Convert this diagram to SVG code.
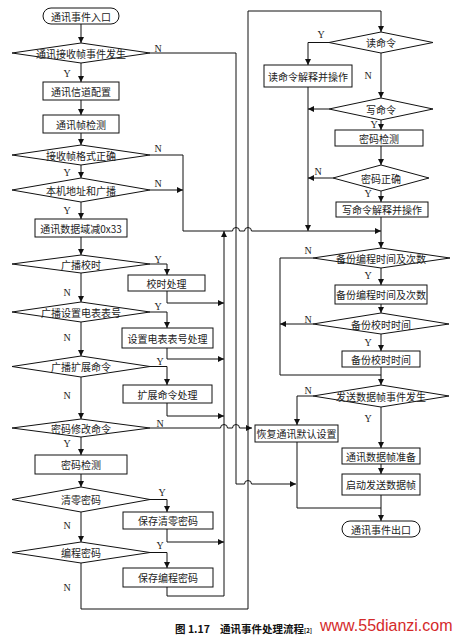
<svg xmlns="http://www.w3.org/2000/svg" width="455" height="638" viewBox="0 0 455 638">
<defs>
<marker id="arr" markerUnits="userSpaceOnUse" markerWidth="6" markerHeight="6" refX="6" refY="3" orient="auto">
<path d="M0,0 L6,3 L0,6 z" fill="#111"/>
</marker>
<style>
.s{fill:#fff;stroke:#111;stroke-width:1}
.t{font-family:"Noto Sans CJK SC","Noto Sans",sans-serif;font-size:10px;fill:#222;text-anchor:middle;dominant-baseline:central}
.l{font-family:"Liberation Serif",serif;font-size:10px;fill:#222;text-anchor:middle}
.c{fill:none;stroke:#111;stroke-width:1}
.a{marker-end:url(#arr)}
</style>
</defs>
<rect width="455" height="638" fill="#fff"/>

<g id="connectors">
<path class="c a" d="M81 24 V43"/>
<path class="c a" d="M150 53 H236 V484 H244.5 a3.5 3.5 0 0 1 7 0 H296"/>
<path class="c a" d="M81 63 V82"/>
<path class="c a" d="M81 100 V115"/>
<path class="c a" d="M81 133 V145"/>
<path class="c a" d="M150 155 H183 V231 H232.5 a3.5 3.5 0 0 1 7 0 H244.5 a3.5 3.5 0 0 1 7 0 H381"/>
<path class="c a" d="M81 165 V178"/>
<path class="c a" d="M150 190 H183"/>
<path class="c a" d="M81 202 V219"/>
<path class="c a" d="M81 237 V255"/>
<path class="c a" d="M150 264 H167 V275"/>
<path class="c a" d="M167 291 V303 H224"/>
<path class="c a" d="M81 273 V302"/>
<path class="c a" d="M150 312 H167 V328"/>
<path class="c a" d="M167 348 V359 H224"/>
<path class="c a" d="M81 322 V356"/>
<path class="c a" d="M150 366.5 H167 V385"/>
<path class="c a" d="M167 403 V416 H224"/>
<path class="c a" d="M81 377 V419"/>
<path class="c a" d="M150 428 H220.5 a3.5 3.5 0 0 1 7 0 H232.5 a3.5 3.5 0 0 1 7 0 H252"/>
<path class="c a" d="M81 437 V455"/>
<path class="c a" d="M81 474 V487"/>
<path class="c a" d="M150 499.5 H167 V512"/>
<path class="c a" d="M167 529 V542 H224"/>
<path class="c a" d="M81 512 V542"/>
<path class="c a" d="M150 552.5 H167 V568"/>
<path class="c a" d="M167 587 V596 H224 V231"/>
<path class="c a" d="M81 563 V609 H248 V11 H381 V32"/>
<path class="c a" d="M329 42.5 H308 V65"/>
<path class="c a" d="M381 53 V98"/>
<path class="c a" d="M308 87 V231"/>
<path class="c a" d="M329 109 H308"/>
<path class="c a" d="M381 120 V130"/>
<path class="c a" d="M381 146 V165"/>
<path class="c a" d="M333 178 H308"/>
<path class="c a" d="M381 191 V202"/>
<path class="c a" d="M381 217 V248"/>
<path class="c" d="M313 258 H280 V375 H381"/>
<path class="c a" d="M381 268 V285"/>
<path class="c a" d="M381 304 V313"/>
<path class="c a" d="M313 324 H280"/>
<path class="c a" d="M381 334 V351"/>
<path class="c a" d="M381 367 V385"/>
<path class="c a" d="M313 396 H297 V425"/>
<path class="c a" d="M381 407 V448"/>
<path class="c a" d="M381 464 V474"/>
<path class="c a" d="M381 495 V521"/>
<path class="c" d="M297 442 V508 H381"/>
</g>

<g id="labels">
<text class="l" x="67" y="77">Y</text>
<text class="l" x="158" y="52">N</text>
<text class="l" x="158" y="152">N</text>
<text class="l" x="67" y="176">Y</text>
<text class="l" x="158" y="187">N</text>
<text class="l" x="67" y="214">Y</text>
<text class="l" x="158" y="263">Y</text>
<text class="l" x="67" y="296">N</text>
<text class="l" x="158" y="310">Y</text>
<text class="l" x="67" y="341">N</text>
<text class="l" x="160" y="365">Y</text>
<text class="l" x="67" y="399">N</text>
<text class="l" x="160" y="427">N</text>
<text class="l" x="67" y="447">Y</text>
<text class="l" x="162" y="496">Y</text>
<text class="l" x="67" y="529">N</text>
<text class="l" x="160" y="549">Y</text>
<text class="l" x="67" y="591">N</text>
<text class="l" x="321" y="38">Y</text>
<text class="l" x="368" y="79">N</text>
<text class="l" x="374" y="128" font-size="9">Y</text>
<text class="l" x="318" y="175">N</text>
<text class="l" x="368" y="197">Y</text>
<text class="l" x="308" y="254">N</text>
<text class="l" x="368" y="279">Y</text>
<text class="l" x="308" y="323">N</text>
<text class="l" x="368" y="346">Y</text>
<text class="l" x="308" y="394">N</text>
<text class="l" x="368" y="422">Y</text>
</g>

<g id="start"><rect class="s" x="43" y="8" width="76" height="16" rx="8"/><text class="t" x="81" y="16">通讯事件入口</text></g>
<g id="d_recv"><polygon class="s" points="12,53 81,43 150,53 81,63"/><text class="t" x="81" y="53">通讯接收帧事件发生</text></g>
<g id="b_channel"><rect class="s" x="43" y="82" width="76" height="18"/><text class="t" x="81" y="91">通讯信道配置</text></g>
<g id="b_frame"><rect class="s" x="43" y="115" width="76" height="18"/><text class="t" x="81" y="124">通讯帧检测</text></g>
<g id="d_format"><polygon class="s" points="12,155 81,145 150,155 81,165"/><text class="t" x="81" y="155">接收帧格式正确</text></g>
<g id="d_addr"><polygon class="s" points="12,190 81,178 150,190 81,202"/><text class="t" x="81" y="190">本机地址和广播</text></g>
<g id="b_sub33"><rect class="s" x="35" y="219" width="92" height="18"/><text class="t" x="81" y="228">通讯数据域减0x33</text></g>
<g id="d_bctime"><polygon class="s" points="12,264 81,255 150,264 81,273"/><text class="t" x="81" y="264">广播校时</text></g>
<g id="b_time"><rect class="s" x="128" y="275" width="77" height="16"/><text class="t" x="166.5" y="283">校时处理</text></g>
<g id="d_bcmeter"><polygon class="s" points="12,312 81,302 150,312 81,322"/><text class="t" x="81" y="312">广播设置电表表号</text></g>
<g id="b_meter"><rect class="s" x="122" y="328" width="91" height="20"/><text class="t" x="167.5" y="338">设置电表表号处理</text></g>
<g id="d_bcext"><polygon class="s" points="12,366.5 81,356 150,366.5 81,377"/><text class="t" x="81" y="366.5">广播扩展命令</text></g>
<g id="b_ext"><rect class="s" x="123" y="385" width="89" height="18"/><text class="t" x="167.5" y="394">扩展命令处理</text></g>
<g id="d_pwmod"><polygon class="s" points="12,428 81,419 150,428 81,437"/><text class="t" x="81" y="428">密码修改命令</text></g>
<g id="b_pwchk"><rect class="s" x="35" y="455" width="92" height="19"/><text class="t" x="81" y="464.5">密码检测</text></g>
<g id="d_clrpw"><polygon class="s" points="12,499.5 81,487 150,499.5 81,512"/><text class="t" x="81" y="499.5">清零密码</text></g>
<g id="b_saveclr"><rect class="s" x="123" y="512" width="90" height="17"/><text class="t" x="168" y="520.5">保存清零密码</text></g>
<g id="d_prgpw"><polygon class="s" points="12,552.5 81,542 150,552.5 81,563"/><text class="t" x="81" y="552.5">编程密码</text></g>
<g id="b_saveprg"><rect class="s" x="123" y="568" width="90" height="19"/><text class="t" x="168" y="577.5">保存编程密码</text></g>

<g id="d_read"><polygon class="s" points="329,42.5 381,32 433,42.5 381,53"/><text class="t" x="381" y="42.5">读命令</text></g>
<g id="b_read"><rect class="s" x="264" y="65" width="88" height="22"/><text class="t" x="308" y="76">读命令解释并操作</text></g>
<g id="d_write"><polygon class="s" points="329,109 381,98 433,109 381,120"/><text class="t" x="381" y="109">写命令</text></g>
<g id="b_pwchk2"><rect class="s" x="335" y="130" width="88" height="16"/><text class="t" x="379" y="138">密码检测</text></g>
<g id="d_pwok"><polygon class="s" points="333,178 381,165 429,178 381,191"/><text class="t" x="381" y="178">密码正确</text></g>
<g id="b_write"><rect class="s" x="336" y="202" width="92" height="15"/><text class="t" x="382" y="209.5">写命令解释并操作</text></g>
<g id="d_bkprg"><polygon class="s" points="313,258 381,248 450,258 381,268"/><text class="t" x="381" y="258">备份编程时间及次数</text></g>
<g id="b_bkprg"><rect class="s" x="335" y="285" width="92" height="19"/><text class="t" x="381" y="294.5">备份编程时间及次数</text></g>
<g id="d_bktime"><polygon class="s" points="313,324 381,313 449,324 381,334"/><text class="t" x="381" y="324">备份校时时间</text></g>
<g id="b_bktime"><rect class="s" x="342" y="351" width="78" height="16"/><text class="t" x="381" y="359">备份校时时间</text></g>
<g id="d_send"><polygon class="s" points="313,396 381,385 449,396 381,407"/><text class="t" x="381" y="396">发送数据帧事件发生</text></g>
<g id="b_restore"><rect class="s" x="255" y="425" width="83" height="17"/><text class="t" x="296.5" y="433.5">恢复通讯默认设置</text></g>
<g id="b_prep"><rect class="s" x="342" y="448" width="78" height="16"/><text class="t" x="381" y="456">通讯数据帧准备</text></g>
<g id="b_start"><rect class="s" x="342" y="474" width="78" height="21"/><text class="t" x="381" y="484.5">启动发送数据帧</text></g>
<g id="end"><rect class="s" x="342" y="521" width="78" height="16" rx="8"/><text class="t" x="381" y="529">通讯事件出口</text></g>

<text x="175" y="633" font-family="Noto Sans CJK SC,sans-serif" font-size="10.5" font-weight="bold" fill="#111">图 1.17<tspan dx="10">通讯事件处理流程</tspan><tspan font-size="6">[2]</tspan></text>
<text x="320" y="631" font-family="Liberation Sans,Arial,sans-serif" font-size="16" fill="#d42a2a">www.55dianzi.com</text>
</svg>
